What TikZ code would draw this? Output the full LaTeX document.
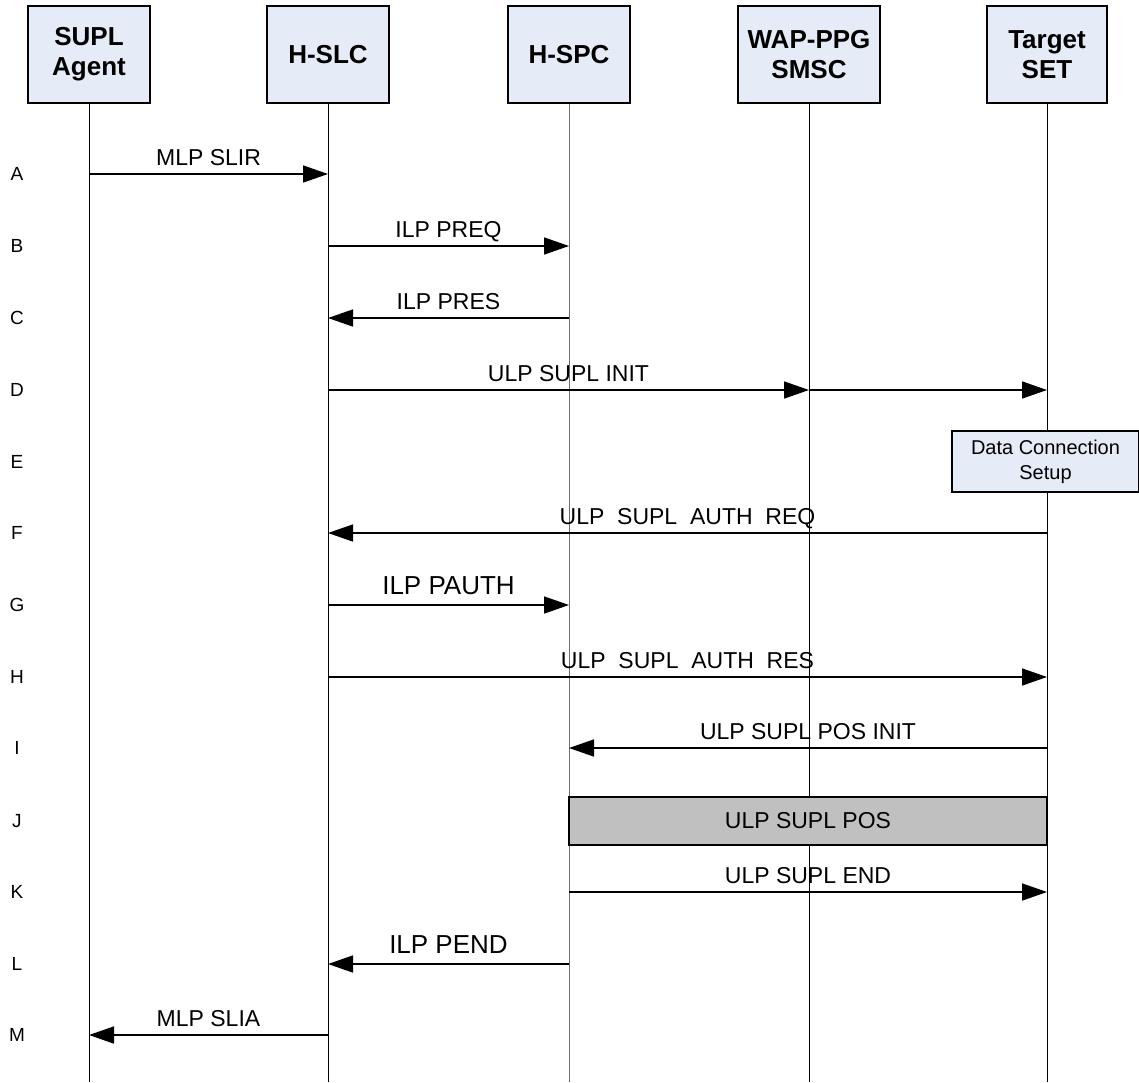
\documentclass[tikz,border=0pt]{standalone}
\usepackage{fontspec}
\setmainfont{Liberation Sans}
\usetikzlibrary{arrows.meta,calc}
\definecolor{hdrfill}{RGB}{230,236,247}
\definecolor{jgray}{RGB}{192,192,192}
\definecolor{lifegray}{RGB}{110,110,110}
\begin{document}
\begin{tikzpicture}[x=1pt,y=-1pt,
  hdr/.style={draw=black,line width=1.8pt,fill=hdrfill,minimum height=97pt,align=center,
    font=\fontsize{26}{30}\selectfont\bfseries,inner sep=0pt},
  life/.style={line width=0.9pt},
  msg/.style={line width=1.6pt,-{Triangle[length=25pt,width=17pt]}},
  lbl/.style={font=\fontsize{23}{26}\selectfont,anchor=base,inner sep=0pt,yshift=9pt},
  biglbl/.style={font=\fontsize{26}{29}\selectfont,anchor=base,inner sep=0pt,yshift=11pt},
  rowlbl/.style={font=\fontsize{19}{22}\selectfont,inner sep=0pt}]
\useasboundingbox (0,0) rectangle (1139,1082);
\fill[white] (0,0) rectangle (1139,1082);

% headers
\node[hdr,minimum width=122pt] (agent) at (89,54.5) {SUPL\\Agent};
\node[hdr,minimum width=122pt] (slc) at (328,54.5) {H-SLC};
\node[hdr,minimum width=122pt] (spc) at (569,54.5) {H-SPC};
\node[hdr,minimum width=142pt] (wap) at (809,54.5) {WAP-PPG\\SMSC};
\node[hdr,minimum width=120pt] (set) at (1047,54.5) {Target\\SET};

\coordinate (bottom) at (0,1082);
\draw[life] (agent.south) -- (agent.south |- bottom);
\draw[life] (slc.south) -- (slc.south |- bottom);
\draw[life,lifegray] (spc.south) -- (spc.south |- bottom);
\draw[life] (wap.south) -- (wap.south |- bottom);
\draw[life] (set.south) -- (set.south |- bottom);

% rows
\coordinate (rA) at (0,174);
\coordinate (rB) at (0,246);
\coordinate (rC) at (0,318);
\coordinate (rD) at (0,390);
\coordinate (rE) at (0,462);
\coordinate (rF) at (0,533);
\coordinate (rG) at (0,605);
\coordinate (rH) at (0,677);
\coordinate (rI) at (0,748);
\coordinate (rJ) at (0,821);
\coordinate (rK) at (0,892);
\coordinate (rL) at (0,964);
\coordinate (rM) at (0,1035);

\foreach \r in {A,B,C,D,E,F,G,H,I,J,K,L,M}
  \node[rowlbl] (row\r) at ($(17,0)+(r\r)$) {\r};

% messages
\draw[msg] (agent |- rA) -- (slc |- rA) node[midway,lbl] (lA) {MLP SLIR};
\draw[msg] (slc |- rB) -- (spc |- rB) node[midway,lbl] (lB) {ILP PREQ};
\draw[msg] (spc |- rC) -- (slc |- rC) node[midway,lbl] (lC) {ILP PRES};
\draw[msg] (slc |- rD) -- (wap |- rD) node[midway,lbl] (lD) {ULP SUPL INIT};
\draw[msg] (wap |- rD) -- (set |- rD);

\node[draw=black,line width=1.2pt,fill=hdrfill,minimum width=187pt,minimum height=61pt,
  align=center,inner sep=0pt,font=\fontsize{20}{25}\selectfont] (dcs) at (1045.5,461.5)
  {Data Connection\\Setup};

\draw[msg] (set |- rF) -- (slc |- rF) node[midway,lbl] (lF) {ULP~ SUPL~ AUTH~ REQ};
\draw[msg] (slc |- rG) -- (spc |- rG) node[midway,biglbl] (lG) {ILP PAUTH};
\draw[msg] (slc |- rH) -- (set |- rH) node[midway,lbl] (lH) {ULP~ SUPL~ AUTH~ RES};
\draw[msg] (set |- rI) -- (spc |- rI) node[midway,lbl] (lI) {ULP SUPL POS INIT};

\node[draw=black,line width=1.5pt,fill=jgray,minimum width=478pt,minimum height=48pt,
  inner sep=0pt,font=\fontsize{23}{26}\selectfont] (jbox) at ($(spc |- rJ)!0.5!(set |- rJ)$)
  {ULP SUPL POS};

\draw[msg] (spc |- rK) -- (set |- rK) node[midway,lbl] (lK) {ULP SUPL END};
\draw[msg] (spc |- rL) -- (slc |- rL) node[midway,biglbl] (lL) {ILP PEND};
\draw[msg] (slc |- rM) -- (agent |- rM) node[midway,lbl] (lM) {MLP SLIA};
\end{tikzpicture}
\end{document}
